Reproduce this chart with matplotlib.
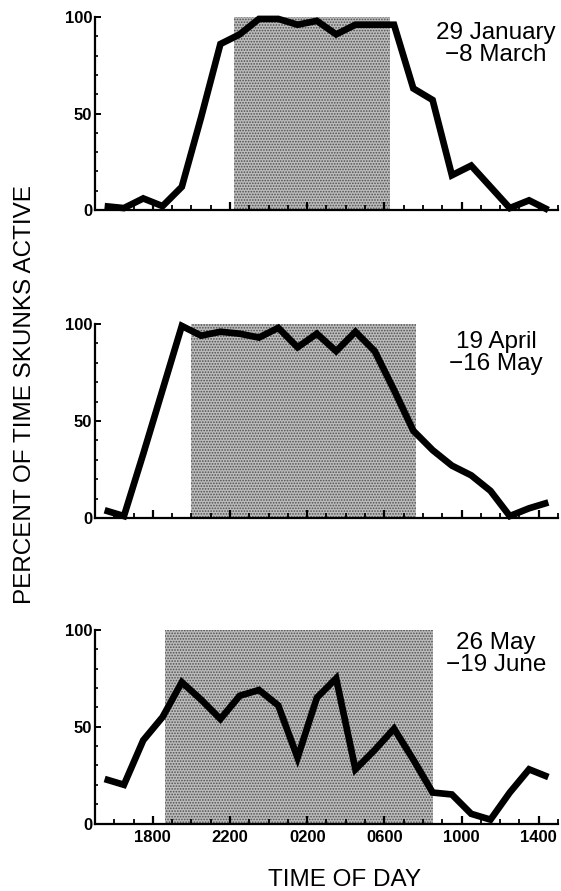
import matplotlib
matplotlib.use('Agg')
import matplotlib.pyplot as plt
from matplotlib.ticker import MultipleLocator

plt.rcParams['font.family'] = ['Liberation Sans', 'DejaVu Sans']
plt.rcParams['hatch.linewidth'] = 0.8

# hour of observation (15.5 = 1530, 24.5 = 0030 next day ...)
hours = [15.5, 16.5, 17.5, 18.5, 19.5, 20.5, 21.5, 22.5, 23.5, 24.5, 25.5, 26.5,
         27.5, 28.5, 29.5, 30.5, 31.5, 32.5, 33.5, 34.5, 35.5, 36.5, 37.5, 38.5]

# percent of time skunks active, one list per season
jan_mar = [2, 1, 6, 2, 12, 48, 86, 91, 99, 99, 96, 98,
           91, 96, 96, 96, 63, 57, 18, 23, 12, 1, 5, 0]
apr_may = [4, 1, 33, 66, 99, 94, 96, 95, 93, 98, 88, 95,
           86, 96, 86, 66, 45, 35, 27, 22, 14, 1, 5, 8]
may_jun = [23, 20, 43, 55, 73, 64, 54, 66, 69, 61, 34, 65,
           75, 28, 38, 49, 33, 16, 15, 5, 2, 16, 28, 24]

seasons = [jan_mar, apr_may, may_jun]
periods = ['29 January\n\u22128 March', '19 April\n\u221216 May', '26 May\n\u221219 June']

# darkness (sunset to sunrise) shaded
dark_start = [22.2, 20.0, 18.65]
dark_end = [30.3, 31.65, 32.5]

tick_hours = [18, 22, 26, 30, 34, 38]
tick_labels = ['1800', '2200', '0200', '0600', '1000', '1400']

W, H = 561, 891
fig = plt.figure(figsize=(W / 100, H / 100), dpi=100)

# panel placement in pixels (top of axes, bottom of axes)
panels_px = [(17, 210), (324, 518), (630, 823.5)]
text_top_px = [22, 331, 632]

for i, (vals, label) in enumerate(zip(seasons, periods)):
    top, bot = panels_px[i]
    ax = fig.add_axes([95 / W, 1 - bot / H, 463 / W, (bot - top) / H])
    ax.axvspan(dark_start[i], dark_end[i], facecolor='#bcbcbc', edgecolor='#4f4f4f',
               hatch='......', lw=0, zorder=1)
    ax.plot(hours, vals, color='black', lw=4.8, solid_joinstyle='miter',
            solid_capstyle='butt', clip_on=False, zorder=3)
    ax.set_xlim(15, 39)
    ax.set_ylim(0, 100)
    for s in ['top', 'right']:
        ax.spines[s].set_visible(False)
    for s in ['left', 'bottom']:
        ax.spines[s].set_linewidth(1.6)
        ax.spines[s].set_zorder(4)

    ax.set_xticks(tick_hours)
    ax.xaxis.set_minor_locator(MultipleLocator(1))
    ax.tick_params(axis='x', which='major', direction='in', length=6, width=1.6, pad=4.5)
    ax.tick_params(axis='x', which='minor', direction='in', length=3.5, width=1.3)
    ax.set_yticks([0, 50, 100])
    ax.yaxis.set_minor_locator(MultipleLocator(10))
    ax.tick_params(axis='y', which='major', direction='in', length=4, width=1.4, pad=2)
    ax.tick_params(axis='y', which='minor', direction='in', length=2.5, width=1.2)
    ax.set_yticklabels(['0', '50', '100'], fontsize=12, fontweight='bold')
    if i == 2:
        ax.set_xticklabels(tick_labels, fontsize=12, fontweight='bold')
    else:
        ax.set_xticklabels([])

    fig.text(496 / W, 1 - text_top_px[i] / H, label, ha='center', va='top',
             multialignment='center', fontsize=17.5, linespacing=1.0)

fig.text(25 / W, 1 - 395 / H, 'PERCENT OF TIME SKUNKS ACTIVE', rotation=90,
         ha='center', va='center', fontsize=17.5)
fig.text(345 / W, 1 - 886 / H, 'TIME OF DAY', ha='center', va='baseline', fontsize=17.5)

fig.savefig('out.png', dpi=100)
